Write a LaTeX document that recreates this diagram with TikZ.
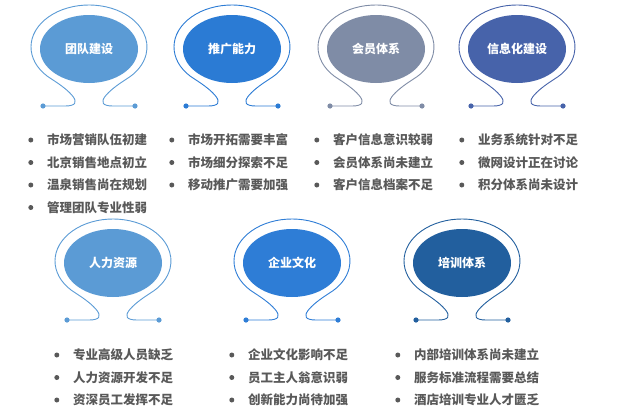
\documentclass[tikz,border=0pt]{standalone}
\usepackage{fontspec}
\setmainfont{Noto Sans CJK SC}
\usetikzlibrary{shapes.geometric}

\definecolor{teamblue}{HTML}{5B9BD5}
\definecolor{promoblue}{HTML}{2B7BD4}
\definecolor{membergray}{HTML}{7F8CA6}
\definecolor{infoblue}{HTML}{4763AA}
\definecolor{hrblue}{HTML}{5B9BD5}
\definecolor{cultureblue}{HTML}{2E7DD6}
\definecolor{trainblue}{HTML}{225F9E}
\definecolor{txtgray}{HTML}{595959}

\begin{document}
\begin{tikzpicture}[x=1pt, y=1pt,
				topic/.style={ellipse, fill=#1, minimum width=98pt, minimum height=68pt,
					inner sep=0pt, text=white, font=\bfseries\fontsize{12}{14}\selectfont},
				dot/.style={circle, fill=txtgray, inner sep=0pt, minimum size=5pt},
				item/.style={anchor=west, inner sep=0pt, text=txtgray,
					font=\bfseries\fontsize{12.5}{15}\selectfont,
					label={[dot, label distance=13.5pt]left:{}}},
				omega/.pic={
					\draw[line width=0.9pt, pic actions] (-46,-57) -- (-24,-57)
						.. controls (-2,-57) and (-20,-41) .. (-37.28,-30.17)
						arc[start angle=-130, end angle=-410, x radius=58pt, y radius=42pt]
						.. controls (20,-41) and (2,-57) .. (24,-57) -- (46,-57);
					\fill[pic actions] (-46,-57) circle (2.6pt) (46,-57) circle (2.6pt);
				}
				]
				\useasboundingbox (0,0) rectangle (632,-418);
				
				% top row
				\node[topic=teamblue] (team) at (89,-49) {团队建设};
				\node[topic=promoblue] (promo) at (232,-49) {推广能力};
				\node[topic=membergray] (member) at (376,-49) {会员体系};
				\node[topic=infoblue] (info) at (517,-49) {信息化建设};
				\pic[color=teamblue] at (team) {omega};
				\pic[color=promoblue] at (promo) {omega};
				\pic[color=membergray] at (member) {omega};
				\pic[color=infoblue] at (info) {omega};
				
				% bottom row
				\node[topic=hrblue] (hr) at (113,-263) {人力资源};
				\node[topic=cultureblue] (culture) at (292,-263) {企业文化};
				\node[topic=trainblue] (train) at (462,-263) {培训体系};
				\pic[color=hrblue] at (hr) {omega};
				\pic[color=cultureblue] at (culture) {omega};
				\pic[color=trainblue] at (train) {omega};
				
				% lists
				\foreach \t [count=\i] in {市场营销队伍初建,北京销售地点初立,温泉销售尚在规划,管理团队专业性弱}
					\node[item] (team-\i) at (47,{-117.5-22.5*\i}) {\t};
				\foreach \t [count=\i] in {市场开拓需要丰富,市场细分探索不足,移动推广需要加强}
					\node[item] (promo-\i) at (188,{-117.5-22.5*\i}) {\t};
				\foreach \t [count=\i] in {客户信息意识较弱,会员体系尚未建立,客户信息档案不足}
					\node[item] (member-\i) at (333,{-117.5-22.5*\i}) {\t};
				\foreach \t [count=\i] in {业务系统针对不足,微网设计正在讨论,积分体系尚未设计}
					\node[item] (info-\i) at (478,{-117.5-22.5*\i}) {\t};
				\foreach \t [count=\i] in {专业高级人员缺乏,人力资源开发不足,资深员工发挥不足}
					\node[item] (hr-\i) at (73,{-332.5-22.5*\i}) {\t};
				\foreach \t [count=\i] in {企业文化影响不足,员工主人翁意识弱,创新能力尚待加强}
					\node[item] (culture-\i) at (248,{-332.5-22.5*\i}) {\t};
				\foreach \t [count=\i] in {内部培训体系尚未建立,服务标准流程需要总结,酒店培训专业人才匮乏}
					\node[item] (train-\i) at (414,{-332.5-22.5*\i}) {\t};
		\end{tikzpicture}
\end{document}
